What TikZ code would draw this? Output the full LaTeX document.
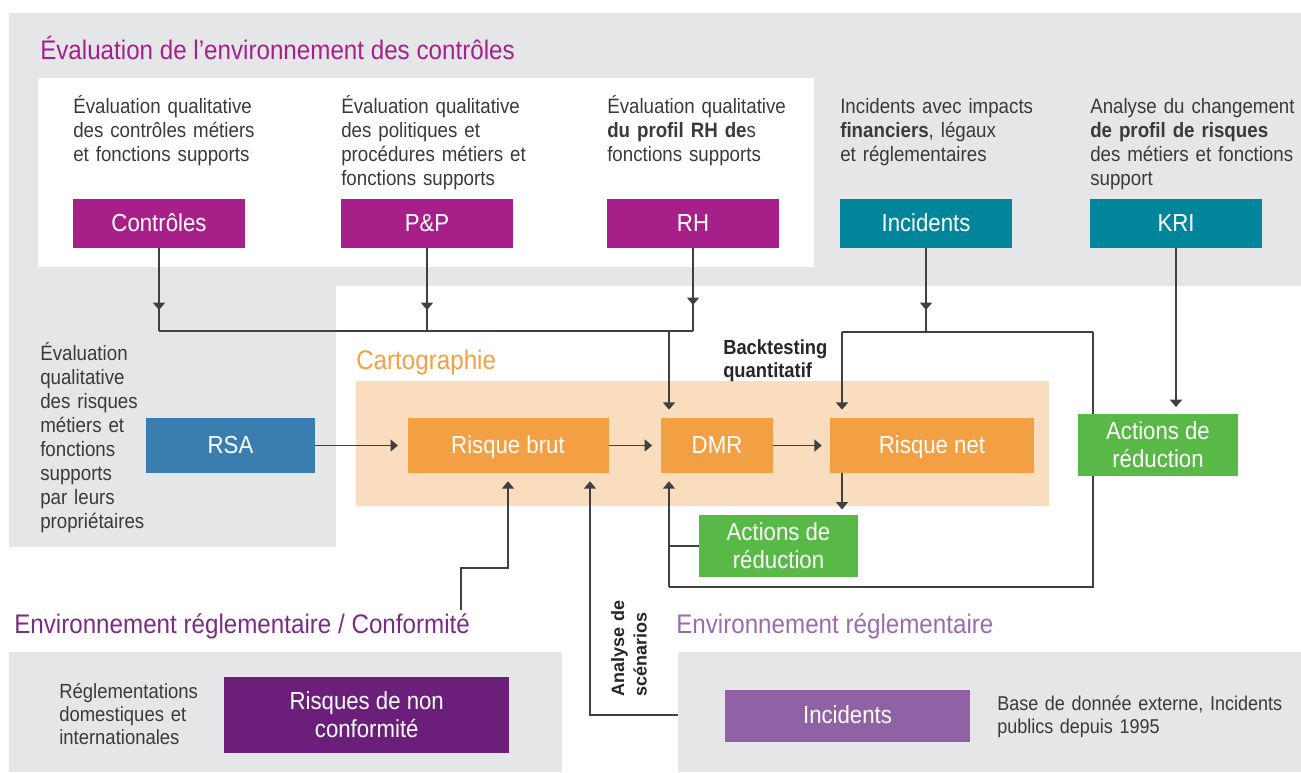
\documentclass[tikz,border=0pt]{standalone}
\usepackage{fontspec}
\setmainfont{Liberation Sans}[FakeStretch=0.9]
\newfontfamily\plainsans{Liberation Sans}
\usetikzlibrary{arrows.meta}
\definecolor{magbox}{HTML}{A7208A}
\definecolor{tealbox}{HTML}{00859B}
\definecolor{orangebox}{HTML}{F39F43}
\definecolor{cartofill}{HTML}{FADDBE}
\definecolor{greenbox}{HTML}{58B947}
\definecolor{bluebox}{HTML}{3A7DB0}
\definecolor{dpurple}{HTML}{6B1F7A}
\definecolor{lpurple}{HTML}{9161A5}
\definecolor{titlepurple}{HTML}{7A2B85}
\definecolor{titlelpurple}{HTML}{9A6BAE}
\definecolor{panelgray}{HTML}{E5E6E8}
\definecolor{txtgray}{HTML}{3A3A3A}
\definecolor{linegray}{HTML}{404040}
\begin{document}
\begin{tikzpicture}[x=0.75pt,y=-0.75pt,
  box/.style={draw=none, inner sep=0pt, text=white, align=center,
    font=\fontsize{18.5pt}{21pt}\selectfont},
  single/.style={box, text height=11.5pt, text depth=0pt},
  body/.style={inner sep=0pt, anchor=base west, text width=260pt, align=left,
    text=txtgray, font=\fontsize{15.6pt}{18pt}\selectfont},
  ttl/.style={inner sep=0pt, anchor=base west, font=\fontsize{20.15pt}{24pt}\selectfont},
  conn/.style={draw=linegray, line width=1pt},
  arr/.style={conn, -{Triangle[width=9pt,length=5.5pt]}}]
\useasboundingbox (0,0) rectangle (1301,772);
% panels
\fill[panelgray] (9,13) -- (1301,13) -- (1301,286) -- (336,286) -- (336,547) -- (9,547) -- cycle;
\fill[white] (38,78) rectangle (814,267);
\fill[cartofill] (356,381) rectangle (1049,506);
\fill[panelgray] (9,652) rectangle (562,772);
\fill[panelgray] (678,652) rectangle (1301,772);
% titles
\node[ttl, text=magbox] (t1) at (40,59) {Évaluation de l’environnement des contrôles};
\node[ttl, text=orangebox] (t2) at (356,369) {Cartographie};
\node[ttl, text=titlepurple] (t3) at (14,633) {Environnement réglementaire / Conformité};
\node[ttl, text=titlelpurple] (t4) at (676,633) {Environnement réglementaire};
% descriptive texts
\node[body] (d1) at (73,113) {Évaluation qualitative\\des contrôles métiers\\et fonctions supports};
\node[body] (d2) at (341,113) {Évaluation qualitative\\des politiques et\\procédures métiers et\\fonctions supports};
\node[body] (d3) at (607,113) {Évaluation qualitative\\\textbf{du profil RH de}s\\fonctions supports};
\node[body] (d4) at (840,113) {Incidents avec impacts\\\textbf{financiers}, légaux\\et réglementaires};
\node[body] (d5) at (1090,113) {Analyse du changement\\\textbf{de profil de risques}\\des métiers et fonctions\\support};
\node[body, text width=120pt] (d6) at (40,360) {Évaluation\\qualitative\\des risques\\métiers et\\fonctions\\supports\\par leurs\\propriétaires};
\node[body, font=\fontsize{15.4pt}{17.4pt}\selectfont] (d7) at (59,698) {Réglementations\\domestiques et\\internationales};
\node[body, font=\fontsize{15pt}{17.4pt}\selectfont] (d8) at (997,710) {Base de donnée externe, Incidents\\publics depuis 1995};
\node[body, text=black!85, font=\fontsize{15.3pt}{17.3pt}\selectfont\bfseries] (bt) at (723,354) {Backtesting\\quantitatif};
\node[body, rotate=90, text width=120pt, text=black!85, font=\plainsans\fontsize{13.5pt}{17pt}\selectfont\bfseries] (as) at (624,697) {Analyse de\\scénarios};
% boxes
\node[single, fill=magbox, minimum width=129pt, minimum height=36.75pt] (ctrl) at (159,223.5) {Contrôles};
\node[single, fill=magbox, minimum width=129pt, minimum height=36.75pt] (pp) at (427,223.5) {P\&P};
\node[single, fill=magbox, minimum width=129pt, minimum height=36.75pt] (rh) at (693,223.5) {RH};
\node[single, fill=tealbox, minimum width=129pt, minimum height=36.75pt] (inc) at (926,223.5) {Incidents};
\node[single, fill=tealbox, minimum width=129pt, minimum height=36.75pt] (kri) at (1176,223.5) {KRI};
\node[single, fill=bluebox, minimum width=126.75pt, minimum height=41.25pt] (rsa) at (230.5,445.5) {RSA};
\node[single, fill=orangebox, minimum width=150.75pt, minimum height=41.25pt] (rb) at (508,445.5) {Risque brut};
\node[single, fill=orangebox, minimum width=84pt, minimum height=41.25pt] (dmr) at (717,445.5) {DMR};
\node[single, fill=orangebox, minimum width=153pt, minimum height=41.25pt] (rn) at (932,445.5) {Risque net};
\node[box, fill=greenbox, minimum width=120pt, minimum height=46.5pt] (ar) at (1158,445) {Actions de\\réduction};
\node[box, fill=greenbox, minimum width=119.25pt, minimum height=46.5pt] (al) at (778.5,546) {Actions de\\réduction};
\node[box, fill=dpurple, minimum width=214pt, minimum height=57pt] (rnc) at (366.75,715) {Risques de non\\conformité};
\node[single, fill=lpurple, minimum width=183.75pt, minimum height=39pt] (incb) at (847.5,716) {Incidents};
% coordinates
\coordinate (busy) at (0,331);
\coordinate (ibusy) at (0,332);
\coordinate (midy) at (0,310);
\coordinate (midrh) at (0,305);
\coordinate (xd) at (669,331);
\coordinate (xn) at (842,332);
\coordinate (xr) at (1093,332);
\coordinate (loopr) at (1093,587);
\coordinate (loopl) at (669,587);
\coordinate (c1) at (461,610);
\coordinate (k1) at (461,568);
\coordinate (c2) at (678,715);
\coordinate (k2) at (590,715);
% top connectors
\draw[conn] (ctrl.south) -- (ctrl.south |- busy);
\draw[arr] (ctrl.south) -- (ctrl.south |- midy);
\draw[conn] (pp.south) -- (pp.south |- busy);
\draw[arr] (pp.south) -- (pp.south |- midy);
\draw[conn] (rh.south) -- (rh.south |- busy);
\draw[arr] (rh.south) -- (rh.south |- midrh);
\draw[conn] (ctrl.south |- busy) -- (rh.south |- busy);
\draw[arr, shorten >=6pt] (xd) -- (xd |- dmr.north);
\draw[conn] (inc.south) -- (inc.south |- ibusy);
\draw[arr] (inc.south) -- (inc.south |- midy);
\draw[conn] (xn) -- (xr);
\draw[arr, shorten >=6pt] (xn) -- (xn |- rn.north);
\draw[conn] (xr) -- (xr |- ar.north);
\draw[conn] (xr |- ar.south) -- (loopr) -- (loopl);
\draw[arr, shorten >=6pt] (loopl) -- (loopl |- dmr.south);
\draw[arr, shorten >=5pt] (kri.south) -- (kri.south |- ar.north);
% horizontal flow
\draw[arr, shorten >=7pt] (rsa.east) -- (rb.west);
\draw[arr, shorten >=6.5pt] (rb.east) -- (dmr.west);
\draw[arr, shorten >=6pt] (dmr.east) -- (rn.west);
% lower
\draw[arr, shorten >=4pt] (xn |- rn.south) -- (xn |- al.north);
\draw[conn] (al.west) -- (al.west -| loopl);
\draw[arr, shorten >=6pt] (c1) -- (k1) -- (k1 -| rb.south) -- (rb.south);
\draw[arr, shorten >=6pt] (c2) -- (k2) -- (k2 |- rb.south);
\end{tikzpicture}
\end{document}
